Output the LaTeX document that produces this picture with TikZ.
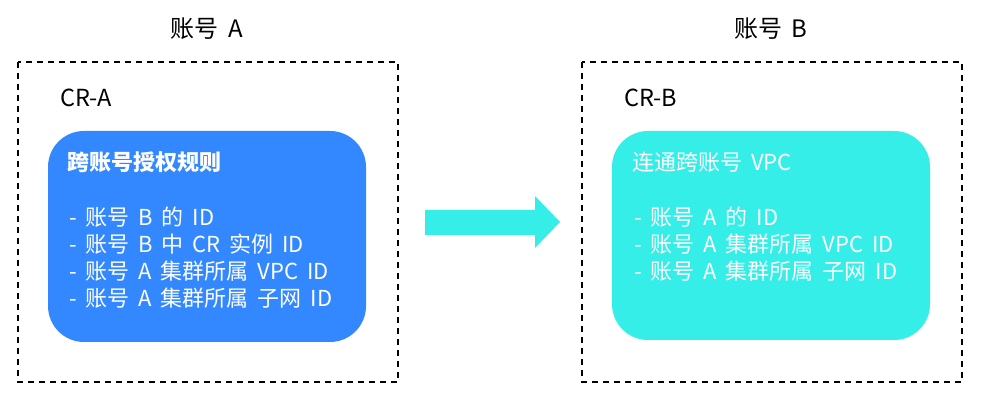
\documentclass[tikz,border=0pt]{standalone}
\usepackage{fontspec}
\setmainfont[WordSpace=1.8]{Noto Sans CJK SC}
\definecolor{blueA}{HTML}{3388FF}
\definecolor{cyanB}{HTML}{35EEE8}
\begin{document}
\begin{tikzpicture}[x=1pt,y=-1pt,
  acct/.style={draw=black,line width=1.3pt,dash pattern=on 6pt off 5pt},
  crbox/.style={rounded corners=36pt,draw=none},
  title/.style={font=\fontsize{24}{28}\selectfont,anchor=base,inner sep=0pt},
  crlabel/.style={font=\fontsize{23.5}{26}\selectfont,anchor=base west,inner sep=0pt},
  line/.style={font=\fontsize{22}{26}\selectfont,text=white,anchor=base west,inner sep=0pt}]
\useasboundingbox (0,0) rectangle (986,403);
% account boxes
\draw[acct] (18,62) rectangle (398,382);
\draw[acct] (582,62) rectangle (962,382);
\node[title] (tA) at (207,38) {账号 A};
\node[title] (tB) at (771,38) {账号 B};
\node[crlabel] (crA) at (60,107) {CR-A};
\node[crlabel] (crB) at (624,107) {CR-B};
% CR boxes
\fill[blueA,crbox] (48,131) rectangle (366,342);
\fill[cyanB,crbox] (612,131) rectangle (930,340);
\node[line] (a0) at (67,171) {\textbf{跨账号授权规则}};
\node[line] (a1) at (69,226) {- 账号 B 的 ID};
\node[line] (a2) at (69,253) {- 账号 B 中 CR 实例 ID};
\node[line] (a3) at (69,280) {- 账号 A 集群所属 VPC ID};
\node[line] (a4) at (69,307) {- 账号 A 集群所属 子网 ID};
\node[line] (b0) at (632,171) {连通跨账号 VPC};
\node[line] (b1) at (634,226) {- 账号 A 的 ID};
\node[line] (b2) at (634,253) {- 账号 A 集群所属 VPC ID};
\node[line] (b3) at (634,280) {- 账号 A 集群所属 子网 ID};
% arrow
\fill[cyanB] (425,210) -- (535,210) -- (535,196) -- (560,222) -- (535,248) -- (535,235) -- (425,235) -- cycle;
\end{tikzpicture}
\end{document}
